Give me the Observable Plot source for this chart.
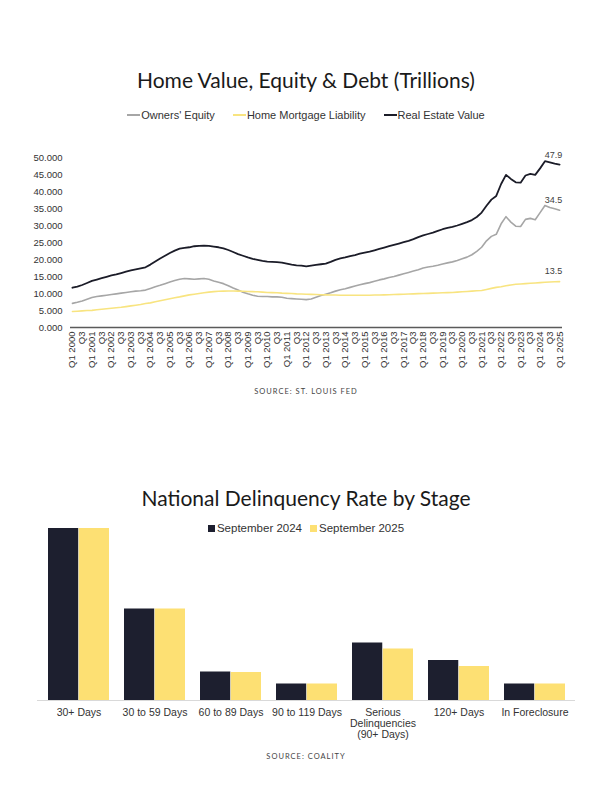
<!DOCTYPE html>
<html>
<head>
<meta charset="utf-8">
<script src="https://cdn.jsdelivr.net/npm/d3@7"></script>
<script src="https://cdn.jsdelivr.net/npm/@observablehq/plot@0.6"></script>
<style>
  html, body { margin: 0; padding: 0; background: #fff; }
  #page { position: relative; width: 612px; height: 792px; overflow: hidden; background: #fff; }
  .abs { position: absolute; left: 0; width: 612px; text-align: center; }
  .title { font-family: Lato, "Open Sans", sans-serif; font-size: 21px; font-weight: 400; color: #1a1a1a; line-height: 26px; }
  .legend { font-family: "Liberation Sans", Arial, sans-serif; font-size: 11px; color: #333; line-height: 14px; display: flex; justify-content: center; align-items: center; }
  .legend .item { display: flex; align-items: center; margin: 0 9px; }
  .legend .line { width: 13px; height: 2px; margin-right: 1px; }
  .legend .sq { width: 7px; height: 7px; margin-right: 2px; }
  .source { font-family: Lato, "Open Sans", sans-serif; font-size: 7.5px; letter-spacing: 1px; color: #444; line-height: 10px; }
  .chart { position: absolute; left: 0; }
</style>
</head>
<body>
<div id="page">
  <div class="abs title" style="top:67px">Home Value, Equity &amp; Debt (Trillions)</div>
  <div class="abs legend" id="legend1" style="top:108px"></div>
  <div class="chart" id="chart1" style="top:140px"></div>
  <div class="abs source" style="top:387px">SOURCE: ST. LOUIS FED</div>

  <div class="abs title" style="top:485px">National Delinquency Rate by Stage</div>
  <div class="chart" id="chart2" style="top:520px"></div>
  <div class="abs legend" id="legend2" style="top:520px; font-size:11.5px; line-height:16px"></div>
  <div class="abs source" style="top:752px">SOURCE: COALITY</div>
</div>
<script>
// ---------- Chart 1 data (quarterly, Q1 2000 .. Q1 2025, trillions) ----------
const tickLabels = [
  "Q1 2000","Q3","Q1 2001","Q3","Q1 2002","Q3","Q1 2003","Q3","Q1 2004","Q3",
  "Q1 2005","Q3","Q1 2006","Q3","Q1 2007","Q3","Q1 2008","Q3","Q1 2009","Q3",
  "Q1 2010","Q3","Q1 2011","Q3","Q1 2012","Q3","Q1 2013","Q3","Q1 2014","Q3",
  "Q1 2015","Q3","Q1 2016","Q3","Q1 2017","Q3","Q1 2018","Q3","Q1 2019","Q3",
  "Q1 2020","Q3","Q1 2021","Q3","Q1 2022","Q3","Q1 2023","Q3","Q1 2024","Q3",
  "Q1 2025"
];
const yTicks = [0, 5, 10, 15, 20, 25, 30, 35, 40, 45, 50];

const seriesNames = ["Owners' Equity", "Home Mortgage Liability", "Real Estate Value"];
const seriesColors = ["#a6a6a6", "#f8e480", "#1b1c28"];

const ownersEquity = [
  7.1, 7.4, 7.8, 8.3, 8.8, 9.1, 9.3, 9.5, 9.7, 9.9,
  10.1, 10.3, 10.5, 10.7, 10.8, 11.0, 11.5, 12.0, 12.4, 12.9,
  13.4, 13.8, 14.2, 14.4, 14.3, 14.2, 14.3, 14.4, 14.2, 13.7,
  13.3, 12.9, 12.3, 11.6, 11.0, 10.4, 9.9, 9.5, 9.2, 9.1,
  9.1, 9.0, 9.0, 8.9, 8.6, 8.5, 8.4, 8.3, 8.2, 8.4,
  8.9, 9.4, 9.8, 10.2, 10.7, 11.1, 11.4, 11.8, 12.2, 12.6,
  12.9, 13.2, 13.6, 14.0, 14.3, 14.7, 15.0, 15.4, 15.8, 16.2,
  16.6, 17.0, 17.5, 17.8, 18.0, 18.3, 18.7, 19.0, 19.3, 19.7,
  20.2, 20.7, 21.4, 22.4, 23.6, 25.5, 26.8, 27.4, 30.5, 32.6,
  31.0, 29.8, 29.7, 31.8, 32.1, 31.7, 33.8, 35.9, 35.3, 34.9,
  34.5
];
const mortgageLiability = [
  4.7, 4.8, 4.9, 5.0, 5.05, 5.2, 5.35, 5.5, 5.65, 5.8,
  5.95, 6.15, 6.35, 6.55, 6.75, 7.05, 7.25, 7.55, 7.85, 8.15,
  8.45, 8.75, 9.0, 9.3, 9.6, 9.8, 10.0, 10.2, 10.4, 10.55,
  10.65, 10.7, 10.75, 10.75, 10.7, 10.65, 10.6, 10.55, 10.5, 10.4,
  10.3, 10.25, 10.2, 10.1, 10.05, 10.0, 9.9, 9.85, 9.8, 9.75,
  9.7, 9.65, 9.6, 9.55, 9.55, 9.5, 9.5, 9.5, 9.5, 9.5,
  9.5, 9.5, 9.55, 9.55, 9.6, 9.65, 9.7, 9.75, 9.8, 9.85,
  9.9, 9.95, 10.0, 10.05, 10.1, 10.15, 10.2, 10.25, 10.3, 10.4,
  10.5, 10.6, 10.7, 10.8, 10.9, 11.2, 11.5, 11.8, 12.0, 12.3,
  12.5, 12.7, 12.8, 12.9, 13.0, 13.1, 13.2, 13.3, 13.4, 13.45,
  13.5
];
const realEstateValue = [
  11.7, 12.0, 12.5, 13.1, 13.7, 14.1, 14.5, 14.9, 15.3, 15.6,
  16.0, 16.4, 16.8, 17.1, 17.4, 17.7, 18.5, 19.4, 20.3, 21.1,
  21.9, 22.6, 23.2, 23.4, 23.6, 23.9, 24.0, 24.1, 24.0, 23.8,
  23.6, 23.3, 22.8, 22.2, 21.6, 21.1, 20.6, 20.2, 19.9, 19.6,
  19.4, 19.3, 19.2, 19.1, 18.8, 18.5, 18.3, 18.2, 18.0, 18.2,
  18.4, 18.6, 18.8, 19.3, 19.9, 20.3, 20.6, 21.0, 21.3, 21.7,
  22.0, 22.3, 22.7, 23.1, 23.5, 23.9, 24.3, 24.7, 25.1, 25.5,
  26.0, 26.6, 27.1, 27.5, 27.9, 28.4, 28.9, 29.3, 29.6, 30.0,
  30.5, 31.0, 31.6, 32.5, 33.8, 35.8, 37.6, 38.7, 42.2, 44.9,
  43.7, 42.7, 42.6, 44.7, 45.2, 44.9, 46.8, 48.9, 48.6, 48.2,
  47.9
];

// ---------- Chart 2 data (national delinquency rate, %) ----------
const stages = ["30+ Days", "30 to 59 Days", "60 to 89 Days", "90 to 119 Days",
  "Serious Delinquencies (90+ Days)", "120+ Days", "In Foreclosure"];
const stageLabels = ["30+ Days", "30 to 59 Days", "60 to 89 Days", "90 to 119 Days",
  "Serious\nDelinquencies\n(90+ Days)", "120+ Days", "In Foreclosure"];
const periods = ["September 2024", "September 2025"];
const periodColors = ["#1d1f2f", "#fde073"];
const sep2024 = [3.44, 1.83, 0.57, 0.33, 1.15, 0.80, 0.33];
const sep2025 = [3.44, 1.83, 0.56, 0.33, 1.03, 0.68, 0.33];

// ---------- Chart 1 ----------
const seriesValues = [ownersEquity, mortgageLiability, realEstateValue];
const rows = [];
seriesValues.forEach((vals, s) => vals.forEach((v, i) => rows.push({i, series: seriesNames[s], value: v})));
const tickIdx = tickLabels.map((_, k) => k * 2);

const chart1 = Plot.plot({
  width: 612, height: 245,
  marginLeft: 70, marginRight: 50, marginTop: 17, marginBottom: 58,
  style: {fontFamily: "'Liberation Sans', Arial, sans-serif", fontSize: "9.5px", color: "#333", background: "transparent"},
  x: {type: "linear", domain: [-0.4, 100.6], axis: null},
  y: {domain: [0, 50], axis: null},
  color: {domain: seriesNames, range: seriesColors},
  marks: [
    Plot.axisY({ticks: yTicks, tickFormat: d3.format(".3f"), tickSize: 0, tickPadding: 8, fontSize: 9.5, label: null}),
    Plot.axisX({ticks: tickIdx, tickFormat: i => tickLabels[i / 2], tickRotate: -90, tickSize: 0, tickPadding: 4, fontSize: 9.5, label: null}),
    Plot.ruleY([0], {stroke: "#5a5a5a", strokeWidth: 1.5}),
    Plot.line(rows.filter(d => d.series === seriesNames[0]), {x: "i", y: "value", stroke: "series", strokeWidth: 1.6}),
    Plot.line(rows.filter(d => d.series === seriesNames[1]), {x: "i", y: "value", stroke: "series", strokeWidth: 1.6}),
    Plot.line(rows.filter(d => d.series === seriesNames[2]), {x: "i", y: "value", stroke: "series", strokeWidth: 1.8}),
    Plot.text(rows, Plot.selectLast({x: "i", y: "value", z: "series", text: d => d.value.toFixed(1), dy: -10, dx: -6, fontSize: 9, fill: "#404040"}))
  ]
});
document.getElementById("chart1").appendChild(chart1);

const legend1 = document.getElementById("legend1");
seriesNames.forEach((name, k) => {
  const item = document.createElement("div");
  item.className = "item";
  item.innerHTML = `<span class="line" style="background:${seriesColors[k]}"></span><span>${name}</span>`;
  legend1.appendChild(item);
});

// ---------- Chart 2 ----------
const w2 = 612, ml2 = 37, mr2 = 37, padIn = 0.2, padOut = 0.1;
const step2 = (w2 - ml2 - mr2) / (stages.length - padIn + 2 * padOut);
const half = step2 * (1 - padIn) / 2;

const chart2 = Plot.plot({
  width: w2, height: 232,
  marginLeft: ml2, marginRight: mr2, marginTop: 8, marginBottom: 52,
  style: {fontFamily: "'Liberation Sans', Arial, sans-serif", fontSize: "10.5px", color: "#333", background: "transparent"},
  x: {domain: stages, paddingInner: padIn, paddingOuter: padOut, axis: null},
  y: {domain: [0, 3.44], axis: null},
  marks: [
    Plot.barY(stages, {x: d => d, y: (d, i) => sep2024[i], fill: periodColors[0], insetRight: half, insetLeft: 0}),
    Plot.barY(stages, {x: d => d, y: (d, i) => sep2025[i], fill: periodColors[1], insetLeft: half, insetRight: 0}),
    Plot.ruleY([0], {stroke: "#d9d9d9", strokeWidth: 1}),
    Plot.axisX({tickSize: 0, tickPadding: 8, fontSize: 10.5, lineHeight: 1.05, label: null, tickFormat: d => stageLabels[stages.indexOf(d)]})
  ]
});
document.getElementById("chart2").appendChild(chart2);

const legend2 = document.getElementById("legend2");
periods.forEach((name, k) => {
  const item = document.createElement("div");
  item.className = "item";
  item.style.margin = "0 4px";
  item.innerHTML = `<span class="sq" style="background:${periodColors[k]}"></span><span>${name}</span>`;
  legend2.appendChild(item);
});
</script>
</body>
</html>
